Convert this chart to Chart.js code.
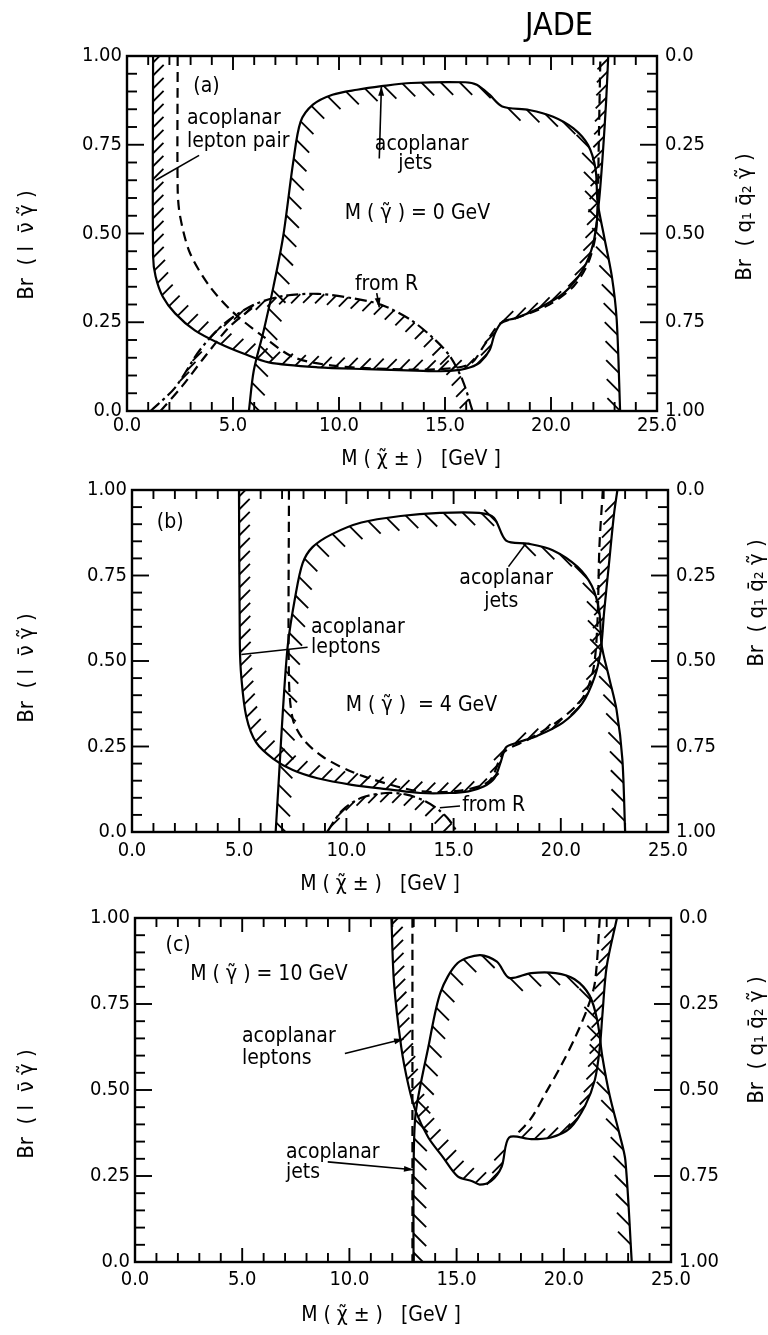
<!DOCTYPE html>
<html>
<head>
<meta charset="utf-8">
<script src="https://cdn.jsdelivr.net/npm/chart.js@4.4.1/dist/chart.umd.min.js"></script>
<style>
  html, body { margin: 0; padding: 0; background: #fff; }
  canvas { display: block; }
</style>
</head>
<body>
<canvas id="panelA" width="768" height="470"></canvas>
<canvas id="panelB" width="768" height="428"></canvas>
<canvas id="panelC" width="768" height="437"></canvas>
<script>
// ---- data (x = M(chargino) in GeV, y = Br(l nu gamma)) ----

// panel (a), M(photino) = 0 GeV
const aLeptonX = [1.23, 1.23, 1.35, 1.69, 2.27, 3.2, 4.36, 5.52, 6.68, 9.0, 11.3, 13.6, 14.8, 15.7, 16.2, 16.65, 17.1, 17.35, 17.7, 18.3, 19.4, 20.6, 21.5, 22.0, 22.26, 22.45, 22.6, 22.7];
const aLeptonY = [1.0, 0.436, 0.379, 0.322, 0.275, 0.227, 0.19, 0.161, 0.137, 0.123, 0.118, 0.114, 0.112, 0.116, 0.123, 0.137, 0.171, 0.218, 0.251, 0.261, 0.289, 0.332, 0.398, 0.474, 0.588, 0.73, 0.872, 1.0];
const aJetsX = [5.75, 5.98, 6.45, 6.91, 7.37, 7.84, 8.19, 8.77, 9.69, 10.85, 12.0, 13.4, 15.95, 16.5, 17.1, 17.7, 18.97, 20.1, 21.06, 21.75, 22.1, 22.2, 22.5, 22.87, 23.1, 23.26];
const aJetsY = [0, 0.114, 0.227, 0.351, 0.493, 0.701, 0.815, 0.863, 0.891, 0.905, 0.915, 0.924, 0.926, 0.919, 0.891, 0.858, 0.848, 0.829, 0.796, 0.749, 0.682, 0.588, 0.493, 0.379, 0.256, 0];
const aDashX = [2.39, 2.39, 2.5, 2.97, 3.9, 5.06, 6.45, 7.84, 9.69, 12.5, 14.8, 16.2, 16.9, 17.6, 18.5, 19.9, 21.06, 21.75, 22.1, 22.2, 22.26, 22.33];
const aDashY = [1.0, 0.626, 0.55, 0.445, 0.351, 0.275, 0.209, 0.152, 0.128, 0.118, 0.118, 0.133, 0.19, 0.246, 0.265, 0.299, 0.351, 0.417, 0.493, 0.588, 0.777, 1.0];
const aFromRX = [1.11, 2.27, 3.43, 4.59, 5.98, 7.37, 9.0, 10.6, 12.0, 13.4, 14.56, 15.26, 15.84, 16.3];
const aFromRY = [0, 0.066, 0.171, 0.246, 0.299, 0.324, 0.33, 0.318, 0.299, 0.256, 0.199, 0.152, 0.085, 0];
const aFromR2X = [1.58, 2.6, 3.66, 4.8, 5.98];
const aFromR2Y = [0, 0.07, 0.152, 0.235, 0.294];

// panel (b), M(photino) = 4 GeV
const bLeptonX = [4.99, 5.03, 5.1, 5.33, 5.79, 6.59, 7.5, 8.65, 10.25, 12.07, 13.45, 14.82, 15.7, 16.4, 16.9, 17.2, 17.45, 18.0, 18.9, 20.08, 21.0, 21.57, 21.86, 22.02, 22.25, 22.48, 22.64];
const bLeptonY = [1.0, 0.548, 0.452, 0.338, 0.262, 0.214, 0.181, 0.157, 0.138, 0.124, 0.114, 0.114, 0.119, 0.133, 0.157, 0.205, 0.248, 0.262, 0.281, 0.319, 0.376, 0.452, 0.529, 0.643, 0.786, 0.929, 1.0];
const bJetsX = [6.7, 6.86, 7.04, 7.27, 7.62, 7.96, 8.42, 9.33, 10.7, 12.53, 14.36, 16.19, 16.88, 17.45, 18.48, 19.62, 20.77, 21.45, 21.8, 21.9, 22.25, 22.6, 22.87, 23.0];
const bJetsY = [0, 0.167, 0.357, 0.548, 0.69, 0.786, 0.833, 0.871, 0.905, 0.924, 0.933, 0.933, 0.919, 0.852, 0.843, 0.824, 0.776, 0.719, 0.643, 0.548, 0.452, 0.357, 0.214, 0];
const bDashX = [7.32, 7.32, 7.5, 8.0, 8.9, 10.25, 12.07, 13.45, 15.2, 16.65, 17.34, 18.5, 20.0, 21.0, 21.5, 21.7, 21.8, 21.96];
const bDashY = [1.0, 0.45, 0.33, 0.27, 0.22, 0.176, 0.138, 0.119, 0.12, 0.148, 0.233, 0.271, 0.33, 0.39, 0.47, 0.6, 0.833, 1.0];
const bFromRX = [9.1, 9.79, 10.7, 11.85, 12.76, 13.68, 14.36, 14.82, 15.16];
const bFromRY = [0, 0.062, 0.1, 0.114, 0.11, 0.09, 0.062, 0.033, 0];

// panel (c), M(photino) = 10 GeV
const cLeptonX = [11.96, 12.08, 12.42, 12.76, 13.1, 13.68, 14.36, 15.05, 15.73, 16.08, 16.6, 17.1, 17.45, 18.48, 19.4, 20.3, 21.0, 21.45, 21.68, 21.8, 22.0, 22.48];
const cLeptonY = [1.0, 0.812, 0.624, 0.512, 0.437, 0.362, 0.305, 0.249, 0.235, 0.225, 0.235, 0.277, 0.362, 0.357, 0.362, 0.39, 0.455, 0.53, 0.624, 0.718, 0.859, 1.0];
const cJetsX = [12.99, 13.0, 13.1, 13.68, 14.25, 15.05, 16.08, 16.88, 17.45, 18.48, 19.62, 20.5, 21.2, 21.57, 21.8, 22.14, 22.6, 22.87, 23.17];
const cJetsY = [0, 0.3, 0.437, 0.624, 0.784, 0.869, 0.892, 0.873, 0.826, 0.84, 0.84, 0.822, 0.775, 0.7, 0.596, 0.484, 0.371, 0.296, 0];
const cDashX = [12.94, 12.94];
const cDashY = [1.0, 0.0];
const cDash2X = [21.68, 21.45, 21.1, 20.53, 19.85, 19.17, 18.48, 17.8];
const cDash2Y = [1.0, 0.812, 0.737, 0.653, 0.568, 0.493, 0.418, 0.371];

// axis ticks
const xLabelTicks = [0, 5, 10, 15, 20, 25];
const xAllTicks = [0, 1, 2, 3, 4, 5, 6, 7, 8, 9, 10, 11, 12, 13, 14, 15, 16, 17, 18, 19, 20, 21, 22, 23, 24, 25];
const yLabelTicks = [0, 0.25, 0.5, 0.75, 1.0];
const yAllTicks = [0, 0.05, 0.1, 0.15, 0.2, 0.25, 0.3, 0.35, 0.4, 0.45, 0.5, 0.55, 0.6, 0.65, 0.7, 0.75, 0.8, 0.85, 0.9, 0.95, 1.0];

const FONT = "'DejaVu Sans Condensed', 'Liberation Sans Narrow', 'DejaVu Sans', sans-serif";
const DASH = [10, 6];
const DASHDOT = [12, 4, 3, 4];
const LEP_H = { dir: '/', side: -1, len: 15, gap: 13 };
const JET_H = { dir: '\\', side: 1, len: 18, gap: 19 };
const R_H = { dir: '/', side: 1, len: 13, gap: 12 };

function pts(xs, ys) {
  return xs.map((v, i) => ({ x: v, y: ys[i] }));
}

function curve(xs, ys, dash, hatch) {
  return {
    data: pts(xs, ys), showLine: true, borderColor: '#000', borderWidth: 2.2,
    borderDash: dash || [], pointRadius: 0, tension: 0.3, fill: false, hatch: hatch || null
  };
}

// densify the drawn bezier path so the hatch follows the curve
function densePath(points) {
  const out = [];
  points.forEach((p, i) => {
    if (i === 0) { out.push([p.x, p.y]); return; }
    const q = points[i - 1];
    const c1x = q.cp2x ?? q.x, c1y = q.cp2y ?? q.y;
    const c2x = p.cp1x ?? p.x, c2y = p.cp1y ?? p.y;
    for (let k = 1; k <= 16; k++) {
      const t = k / 16, u = 1 - t;
      out.push([
        u * u * u * q.x + 3 * u * u * t * c1x + 3 * u * t * t * c2x + t * t * t * p.x,
        u * u * u * q.y + 3 * u * u * t * c1y + 3 * u * t * t * c2y + t * t * t * p.y
      ]);
    }
  });
  return out;
}

const hatchPlugin = {
  id: 'hatch',
  afterDatasetsDraw(chart) {
    const { ctx, chartArea: a } = chart;
    ctx.save();
    ctx.beginPath();
    ctx.rect(a.left, a.top, a.right - a.left, a.bottom - a.top);
    ctx.clip();
    ctx.strokeStyle = '#000';
    ctx.lineWidth = 1.8;
    chart.data.datasets.forEach((ds, di) => {
      const h = ds.hatch;
      if (!h) return;
      const path = densePath(chart.getDatasetMeta(di).data);
      const d0 = h.dir === '/' ? [0.7071, -0.7071] : [0.7071, 0.7071];
      let carry = h.gap / 2;
      for (let i = 1; i < path.length; i++) {
        const [ax, ay] = path[i - 1], [bx, by] = path[i];
        const seg = Math.hypot(bx - ax, by - ay);
        if (!seg) continue;
        const tx = (bx - ax) / seg, ty = (by - ay) / seg;
        const nx = -ty * h.side, ny = tx * h.side;
        let s = carry;
        while (s <= seg) {
          const px = ax + tx * s, py = ay + ty * s;
          let dx = d0[0], dy = d0[1];
          const dot = dx * nx + dy * ny;
          if (dot < 0) { dx = -dx; dy = -dy; }
          if (Math.abs(dot) > 0.15) {
            ctx.beginPath();
            ctx.moveTo(px, py);
            ctx.lineTo(px + dx * h.len, py + dy * h.len);
            ctx.stroke();
          }
          s += h.gap;
        }
        carry = s - seg;
      }
    });
    ctx.restore();
  }
};

const frameTicks = {
  id: 'frameTicks',
  afterDraw(chart) {
    const { ctx, chartArea: a, scales } = chart;
    ctx.save();
    ctx.strokeStyle = '#000';
    ctx.lineWidth = 2.4;
    ctx.strokeRect(a.left, a.top, a.right - a.left, a.bottom - a.top);
    ctx.lineWidth = 1.9;
    const seg = (x0, y0, x1, y1) => { ctx.beginPath(); ctx.moveTo(x0, y0); ctx.lineTo(x1, y1); ctx.stroke(); };
    xAllTicks.forEach(v => {
      const px = scales.x.getPixelForValue(v);
      const len = xLabelTicks.includes(v) ? 14 : 9;
      seg(px, a.bottom, px, a.bottom - len);
      seg(px, a.top, px, a.top + len);
    });
    yAllTicks.forEach(v => {
      const py = scales.y.getPixelForValue(v);
      const len = yLabelTicks.includes(v) ? 17 : 10;
      seg(a.left, py, a.left + len, py);
      seg(a.right, py, a.right - len, py);
    });
    ctx.restore();
  }
};

function notesPlugin(panel) {
  return {
    id: 'notes',
    afterDraw(chart) {
      const { ctx, scales: { x, y } } = chart;
      ctx.save();
      ctx.fillStyle = '#000';
      ctx.strokeStyle = '#000';
      ctx.lineWidth = 1.6;
      panel.leaders.forEach(l => {
        const x0 = x.getPixelForValue(l[0]), y0 = y.getPixelForValue(l[1]);
        const x1 = x.getPixelForValue(l[2]), y1 = y.getPixelForValue(l[3]);
        ctx.beginPath(); ctx.moveTo(x0, y0); ctx.lineTo(x1, y1); ctx.stroke();
        if (l[4]) {
          const ang = Math.atan2(y1 - y0, x1 - x0);
          ctx.beginPath();
          ctx.moveTo(x1, y1);
          ctx.lineTo(x1 - 10 * Math.cos(ang - 0.3), y1 - 10 * Math.sin(ang - 0.3));
          ctx.lineTo(x1 - 10 * Math.cos(ang + 0.3), y1 - 10 * Math.sin(ang + 0.3));
          ctx.closePath();
          ctx.fill();
        }
      });
      ctx.font = '21px ' + FONT;
      ctx.textBaseline = 'middle';
      panel.texts.forEach(t => {
        ctx.textAlign = t[3] || 'center';
        ctx.fillText(t[0], x.getPixelForValue(t[1]), y.getPixelForValue(t[2]));
      });
      // axis titles
      ctx.font = '21px ' + FONT;
      ctx.textAlign = 'center';
      ctx.fillText('M ( \u03C7\u0303 \u00B1 )   [GeV ]', panel.xTitle[0], panel.xTitle[1]);
      ctx.font = '22px ' + FONT;
      ctx.save();
      ctx.translate(panel.lTitle[0], panel.lTitle[1]);
      ctx.rotate(-Math.PI / 2);
      ctx.fillText('Br  ( l  \u03BD\u0304 \u03B3\u0303 )', 0, 0);
      ctx.restore();
      ctx.save();
      ctx.translate(panel.rTitle[0], panel.rTitle[1]);
      ctx.rotate(-Math.PI / 2);
      ctx.fillText('Br  ( q\u2081 q\u0304\u2082 \u03B3\u0303 )', 0, 0);
      ctx.restore();
      if (panel.jade) {
        ctx.font = '32px ' + FONT;
        ctx.fillText('JADE', panel.jade[0], panel.jade[1]);
      }
      ctx.restore();
    }
  };
}

const tickFmt = v => (v === 0 ? '0.0' : v.toFixed(2));
const tickFont = { family: FONT, size: 20 };

const panels = [
  {
    canvas: 'panelA', h: 470, left: 127, right: 657, top: 56, bottom: 411, xPad: 3,
    xTitle: [421, 460], lTitle: [27, 245], rTitle: [745, 217], jade: [559, 27],
    datasets: [
      curve(aLeptonX, aLeptonY, [], LEP_H),
      curve(aJetsX, aJetsY, [], JET_H),
      curve(aDashX, aDashY, DASH),
      curve(aFromRX, aFromRY, DASHDOT, R_H),
      curve(aFromR2X, aFromR2Y, DASH)
    ],
    texts: [
      ['(a)', 3.75, 0.915],
      ['acoplanar', 2.83, 0.825, 'left'], ['lepton pair', 2.83, 0.76, 'left'],
      ['acoplanar', 13.9, 0.75], ['jets', 13.6, 0.697],
      ['M ( \u03B3\u0303 ) = 0 GeV', 13.7, 0.555],
      ['from R', 12.24, 0.357]
    ],
    leaders: [
      [3.4, 0.72, 1.35, 0.65, false],
      [11.9, 0.711, 12.0, 0.915, true],
      [11.78, 0.332, 11.9, 0.292, true]
    ]
  },
  {
    canvas: 'panelB', h: 428, left: 132, right: 668, top: 12, bottom: 362, xPad: 7,
    xTitle: [380, 415], lTitle: [27, 198], rTitle: [757, 133],
    datasets: [
      curve(bLeptonX, bLeptonY, [], LEP_H),
      curve(bJetsX, bJetsY, [], JET_H),
      curve(bDashX, bDashY, DASH),
      curve(bFromRX, bFromRY, DASHDOT, R_H)
    ],
    texts: [
      ['(b)', 1.78, 0.905],
      ['acoplanar', 8.35, 0.597, 'left'], ['leptons', 8.35, 0.538, 'left'],
      ['acoplanar', 17.45, 0.741], ['jets', 17.22, 0.673],
      ['M ( \u03B3\u0303 )  = 4 GeV', 13.5, 0.371],
      ['from R', 15.4, 0.076, 'left']
    ],
    leaders: [
      [8.19, 0.54, 5.1, 0.519, false],
      [17.56, 0.776, 18.36, 0.843, false],
      [15.3, 0.076, 14.36, 0.071, false]
    ]
  },
  {
    canvas: 'panelC', h: 437, left: 135, right: 671, top: 16, bottom: 364, xPad: 6,
    xTitle: [381, 418], lTitle: [27, 206], rTitle: [757, 142],
    datasets: [
      curve(cLeptonX, cLeptonY, [], LEP_H),
      curve(cJetsX, cJetsY, [], JET_H),
      curve(cDashX, cDashY, DASH),
      curve(cDash2X, cDash2Y, DASH)
    ],
    texts: [
      ['(c)', 2.01, 0.92],
      ['M ( \u03B3\u0303 ) = 10 GeV', 2.58, 0.836, 'left'],
      ['acoplanar', 4.99, 0.655, 'left'], ['leptons', 4.99, 0.59, 'left'],
      ['acoplanar', 7.04, 0.317, 'left'], ['jets', 7.04, 0.26, 'left']
    ],
    leaders: [
      [9.79, 0.606, 12.53, 0.648, true],
      [8.99, 0.291, 12.99, 0.268, true]
    ]
  }
];

panels.forEach(p => {
  new Chart(document.getElementById(p.canvas), {
    type: 'scatter',
    data: { datasets: p.datasets },
    options: {
      responsive: false,
      animation: false,
      devicePixelRatio: 1,
      layout: { padding: { left: 0, right: 0, top: p.top, bottom: 0 } },
      plugins: { legend: { display: false }, tooltip: { enabled: false } },
      scales: {
        x: {
          type: 'linear', min: 0, max: 25,
          grid: { display: false, drawTicks: false }, border: { display: false },
          ticks: { stepSize: 5, autoSkip: false, maxRotation: 0, padding: p.xPad, color: '#000', font: tickFont, callback: v => v.toFixed(1) },
          afterFit: s => { s.height = p.h - p.bottom; }
        },
        y: {
          type: 'linear', position: 'left', min: 0, max: 1,
          grid: { display: false, drawTicks: false }, border: { display: false },
          ticks: { stepSize: 0.25, padding: 5, color: '#000', font: tickFont, callback: tickFmt },
          afterFit: s => { s.width = p.left; }
        },
        y2: {
          type: 'linear', position: 'right', min: 0, max: 1, reverse: true,
          grid: { display: false, drawTicks: false }, border: { display: false },
          ticks: { stepSize: 0.25, padding: 8, color: '#000', font: tickFont, callback: tickFmt },
          afterFit: s => { s.width = 768 - p.right; }
        }
      }
    },
    plugins: [hatchPlugin, frameTicks, notesPlugin(p)]
  });
});
</script>
</body>
</html>
